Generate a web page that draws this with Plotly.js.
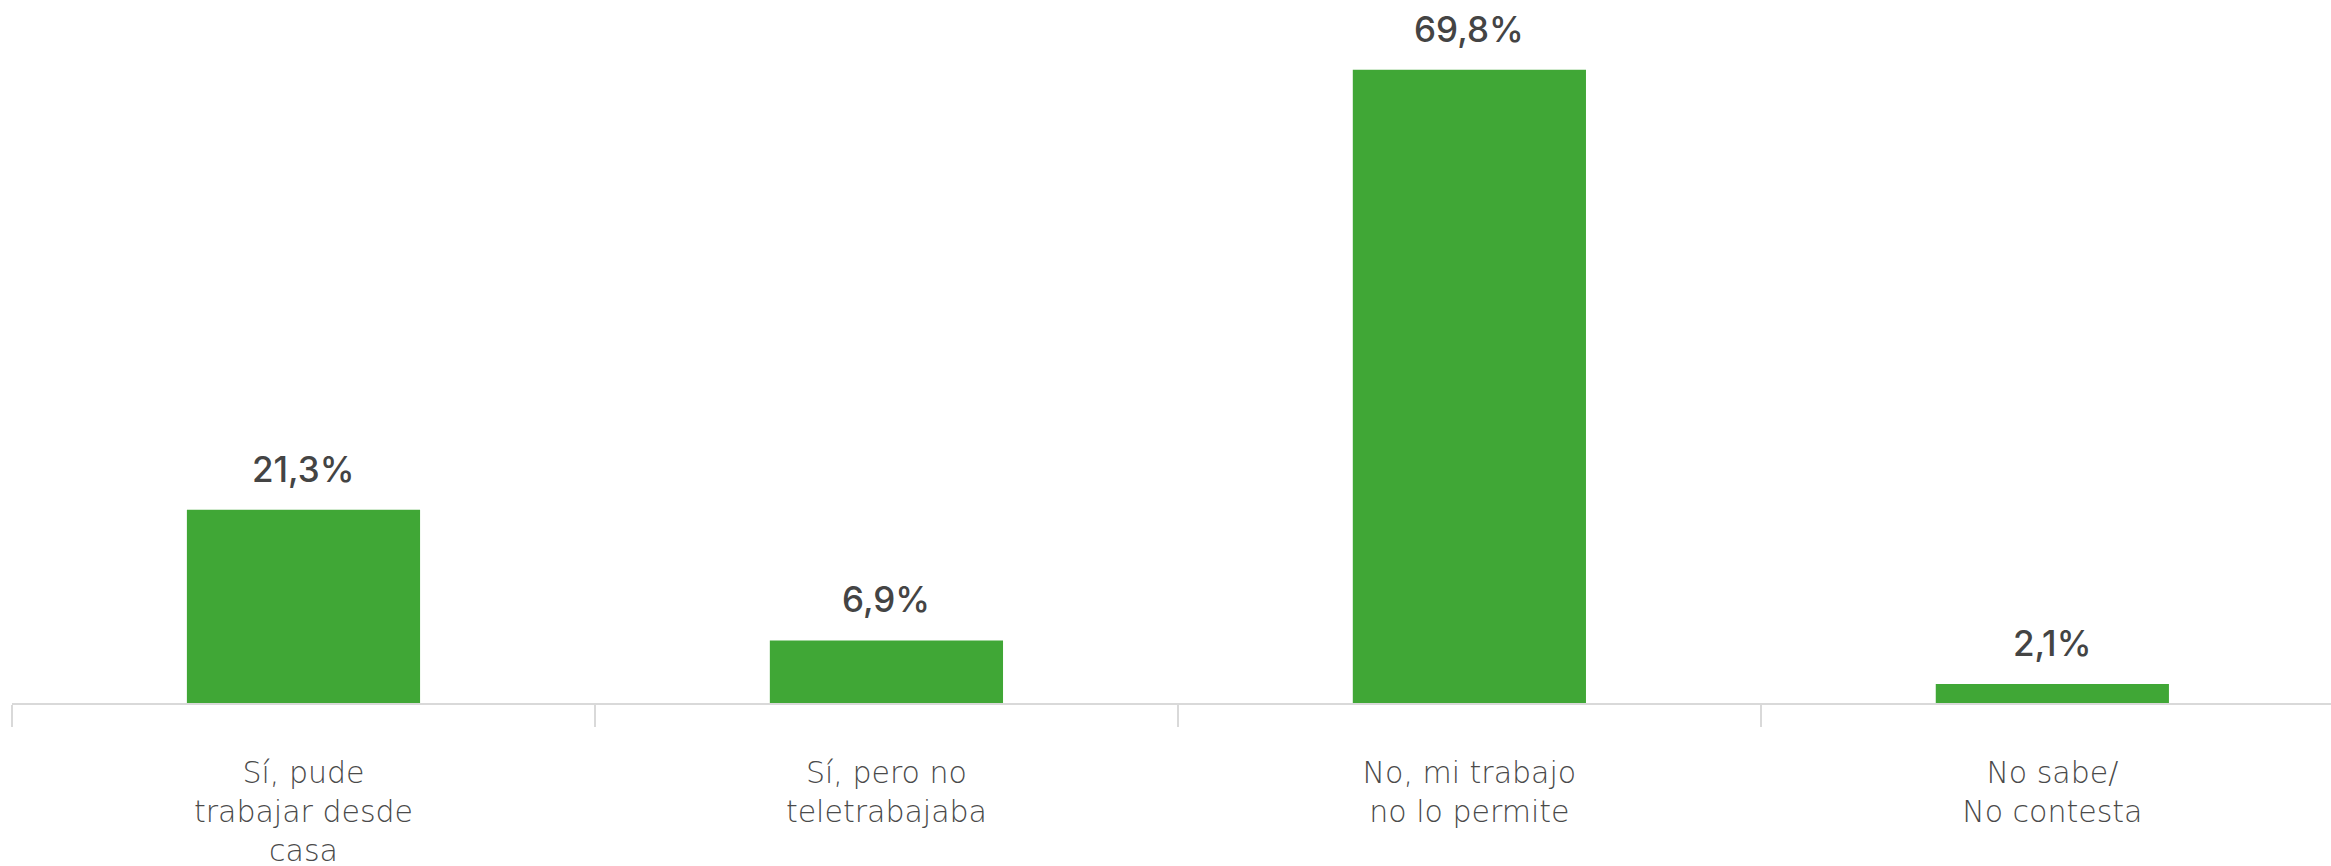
<!DOCTYPE html>
<html>
<head>
<meta charset="utf-8">
<script src="https://cdn.plot.ly/plotly-3.0.1.min.js"></script>
<style>html,body{margin:0;padding:0;background:#fff;}#chart{width:2331px;height:866px;}</style>
</head>
<body>
<div id="chart"></div>
<script>
const categories = ["Sí, pude<br>trabajar desde<br>casa", "Sí, pero no<br>teletrabajaba", "No, mi trabajo<br>no lo permite", "No sabe/<br>No contesta"];
const values = [21.3, 6.9, 69.8, 2.1];
const valueLabels = values.map(v => v.toFixed(1).replace('.', ',') + '%');

const trace = {
  type: 'bar',
  x: categories,
  y: values,
  marker: {color: '#40a736'},
  width: 0.4,
  hoverinfo: 'none'
};

const annotations = values.map((v, i) => ({
  x: categories[i], y: v, xref: 'x', yref: 'y',
  text: valueLabels[i], showarrow: false,
  yanchor: 'bottom', yshift: 18,
  font: {family: 'Inter, sans-serif', size: 35, color: '#444444', weight: 500}
}));

const layout = {
  width: 2331, height: 866,
  margin: {l: 12, r: 0, t: 0, b: 163},
  paper_bgcolor: '#ffffff', plot_bgcolor: '#ffffff',
  showlegend: false,
  bargap: 0.6,
  xaxis: {
    type: 'category',
    range: [-0.5, 3.478],
    showline: true, linecolor: '#d9d9d9', linewidth: 2,
    ticks: 'outside', tickson: 'boundaries', ticklen: 22, tickcolor: '#d9d9d9', tickwidth: 2,
    ticklabelstandoff: 42,
    tickfont: {family: '"DejaVu Sans", sans-serif', size: 30, color: '#4a4a4a', weight: 200},
    showgrid: false, zeroline: false
  },
  yaxis: {
    range: [0, 77.5],
    visible: false, showgrid: false, zeroline: false
  },
  annotations: annotations
};

Plotly.newPlot('chart', [trace], layout, {displayModeBar: false, staticPlot: true});
</script>
</body>
</html>
